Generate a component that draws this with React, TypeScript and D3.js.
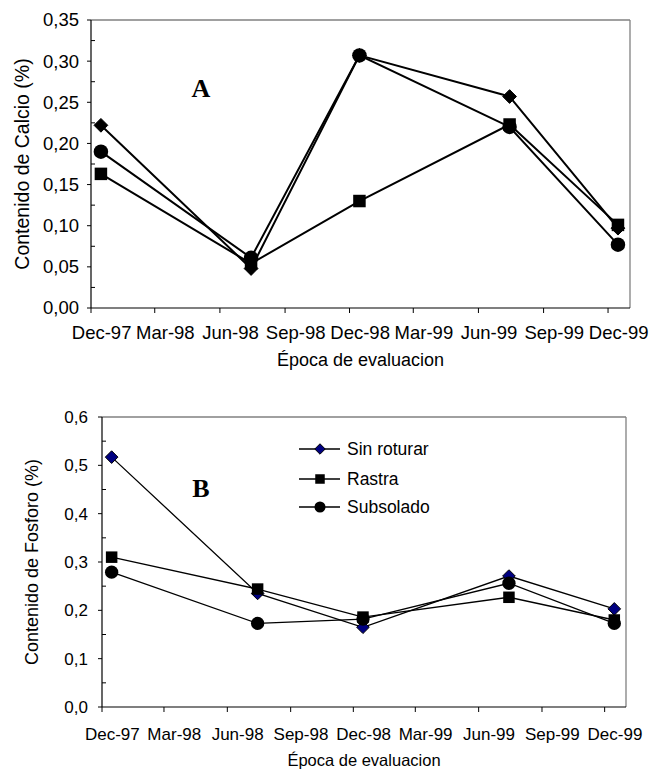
import React from "react";
import * as d3 from "d3";

// sampling dates (mid month)
const sampleDates = ["1997-12-15", "1998-07-15", "1998-12-15", "1999-07-15", "1999-12-15"];
const tickDates = [
  "1997-12-01", "1998-03-01", "1998-06-01", "1998-09-01", "1998-12-01",
  "1999-03-01", "1999-06-01", "1999-09-01", "1999-12-01",
];
const tickLabels = ["Dec-97", "Mar-98", "Jun-98", "Sep-98", "Dec-98", "Mar-99", "Jun-99", "Sep-99", "Dec-99"];
const seriesNames = ["Sin roturar", "Rastra", "Subsolado"];

// Chart A: calcio
const sinRoturarCa = [0.222, 0.048, 0.307, 0.257, 0.097];
const rastraCa = [0.163, 0.054, 0.13, 0.223, 0.101];
const subsoladoCa = [0.19, 0.061, 0.307, 0.22, 0.077];
const caTicks = [0, 0.05, 0.1, 0.15, 0.2, 0.25, 0.3, 0.35];

// Chart B: fosforo
const sinRoturarP = [0.517, 0.235, 0.165, 0.271, 0.203];
const rastraP = [0.31, 0.244, 0.186, 0.227, 0.18];
const subsoladoP = [0.279, 0.173, 0.182, 0.256, 0.173];
const pTicks = [0, 0.1, 0.2, 0.3, 0.4, 0.5, 0.6];

const parse = d3.timeParse("%Y-%m-%d");
const FONT = "'Liberation Sans', Arial, sans-serif";

type Marker = "diamond" | "square" | "circle";
const markers: Marker[] = ["diamond", "square", "circle"];

function MarkerShape({ kind, x, y, s, fill }: { kind: Marker; x: number; y: number; s: number; fill: string }) {
  if (kind === "diamond") {
    const h = s * 0.55;
    return (
      <path
        d={`M${x},${y - h}L${x + h},${y}L${x},${y + h}L${x - h},${y}Z`}
        fill={fill}
        stroke="#000"
        strokeWidth={1}
      />
    );
  }
  if (kind === "square") {
    const h = s * 0.5;
    return <rect x={x - h} y={y - h} width={2 * h} height={2 * h} fill="#000" />;
  }
  return <circle cx={x} cy={y} r={s * 0.58} fill="#000" />;
}

type PanelProps = {
  left: number;
  right: number;
  top: number;
  bottom: number;
  yMax: number;
  ticks: number[];
  minorStep: number;
  decimals: number;
  series: number[][];
  yTitle: string;
  letter: string;
  letterPos: [number, number];
  tickFont: number;
  titleFont: number;
  yTitleFont: number;
  yTitleX: number;
  lineWidth: number;
  markerSize: number;
  diamondFill: string;
  xLabelDy: number;
  xTitleDy: number;
  yLabelGap: number;
};

function Panel(p: PanelProps) {
  const x = d3
    .scaleTime()
    .domain([parse("1997-12-01")!, parse("2000-01-01")!])
    .range([p.left, p.right]);
  const y = d3.scaleLinear().domain([0, p.yMax]).range([p.bottom, p.top]);
  const dates = sampleDates.map((d) => parse(d)!);
  const line = d3
    .line<number>()
    .x((_, i) => x(dates[i]))
    .y((v) => y(v));
  const fmt = (v: number) => v.toFixed(p.decimals).replace(".", ",");
  const minor = d3.range(p.minorStep, p.yMax, p.minorStep * 2);

  return (
    <g fontFamily={FONT}>
      {/* frame */}
      <line x1={p.left} x2={p.right} y1={p.top} y2={p.top} stroke="#808080" strokeWidth={1.3} />
      <line x1={p.right} x2={p.right} y1={p.top} y2={p.bottom} stroke="#808080" strokeWidth={1.3} />
      <line x1={p.left} x2={p.left} y1={p.top} y2={p.bottom} stroke="#000" strokeWidth={1.2} />
      <line x1={p.left} x2={p.right} y1={p.bottom} y2={p.bottom} stroke="#000" strokeWidth={1.2} />

      {/* y ticks */}
      {p.ticks.map((t) => (
        <g key={t}>
          <line x1={p.left - 4} x2={p.left} y1={y(t)} y2={y(t)} stroke="#000" />
          <text
            x={p.left - p.yLabelGap}
            y={y(t)}
            dy="0.35em"
            textAnchor="end"
            fontSize={p.tickFont}
          >
            {fmt(t)}
          </text>
        </g>
      ))}
      {minor.map((t) => (
        <line key={t} x1={p.left} x2={p.left + 4} y1={y(t)} y2={y(t)} stroke="#000" />
      ))}

      {/* x ticks; labels sit half a month to the right of the tick */}
      {tickDates.map((d, i) => {
        const td = parse(d)!;
        const xx = x(td);
        const lx = x(d3.timeDay.offset(td, 15));
        return (
          <g key={d}>
            <line x1={xx} x2={xx} y1={p.bottom} y2={p.bottom + 5} stroke="#000" />
            <text x={lx} y={p.bottom + p.xLabelDy} dy="0.35em" textAnchor="middle" fontSize={p.tickFont}>
              {tickLabels[i]}
            </text>
          </g>
        );
      })}

      <text
        x={(p.left + p.right) / 2}
        y={p.bottom + p.xTitleDy}
        dy="0.35em"
        textAnchor="middle"
        fontSize={p.titleFont}
      >
        Época de evaluacion
      </text>
      <text
        transform={`translate(${p.yTitleX},${(p.top + p.bottom) / 2}) rotate(-90)`}
        dy="0.35em"
        textAnchor="middle"
        fontSize={p.yTitleFont}
      >
        {p.yTitle}
      </text>

      <text
        x={p.letterPos[0]}
        y={p.letterPos[1]}
        textAnchor="middle"
        fontFamily="'Liberation Serif', 'Times New Roman', serif"
        fontWeight="bold"
        fontSize={26}
      >
        {p.letter}
      </text>

      {/* series */}
      {p.series.map((vals, si) => (
        <g key={si}>
          <path d={line(vals)!} fill="none" stroke="#000" strokeWidth={p.lineWidth} />
          {vals.map((v, i) => (
            <MarkerShape
              key={i}
              kind={markers[si]}
              x={x(dates[i])}
              y={y(v)}
              s={p.markerSize}
              fill={p.diamondFill}
            />
          ))}
        </g>
      ))}
    </g>
  );
}

export default function App() {
  const legendRows = [449, 479, 507];
  return (
    <svg
      width={649}
      height={771}
      style={{ position: "absolute", left: 0, top: 0, background: "#fff" }}
    >
      <rect width={649} height={771} fill="#fff" />
      <Panel
        left={91}
        right={630}
        top={20}
        bottom={308}
        yMax={0.35}
        ticks={caTicks}
        minorStep={0.025}
        decimals={2}
        series={[sinRoturarCa, rastraCa, subsoladoCa]}
        yTitle="Contenido de Calcio (%)"
        letter="A"
        letterPos={[201, 97]}
        tickFont={18.5}
        titleFont={18}
        yTitleFont={19.5}
        yTitleX={22}
        lineWidth={2}
        markerSize={12.5}
        diamondFill="#000"
        xLabelDy={25}
        xTitleDy={52}
        yLabelGap={12}
      />
      <Panel
        left={102}
        right={626}
        top={417}
        bottom={707}
        yMax={0.6}
        ticks={pTicks}
        minorStep={0.05}
        decimals={1}
        series={[sinRoturarP, rastraP, subsoladoP]}
        yTitle="Contenido de Fosforo (%)"
        letter="B"
        letterPos={[201, 497]}
        tickFont={17}
        titleFont={16.5}
        yTitleFont={18}
        yTitleX={32}
        lineWidth={1.3}
        markerSize={11.5}
        diamondFill="#000080"
        xLabelDy={27}
        xTitleDy={53}
        yLabelGap={14}
      />
      {/* legend */}
      <g fontFamily={FONT}>
        {seriesNames.map((name, i) => (
          <g key={name}>
            <line x1={299} x2={340} y1={legendRows[i]} y2={legendRows[i]} stroke="#000" strokeWidth={1.3} />
            <MarkerShape kind={markers[i]} x={320} y={legendRows[i]} s={9.5} fill="#000080" />
            <text x={347} y={legendRows[i]} dy="0.35em" fontSize={17.5}>
              {name}
            </text>
          </g>
        ))}
      </g>
    </svg>
  );
}
